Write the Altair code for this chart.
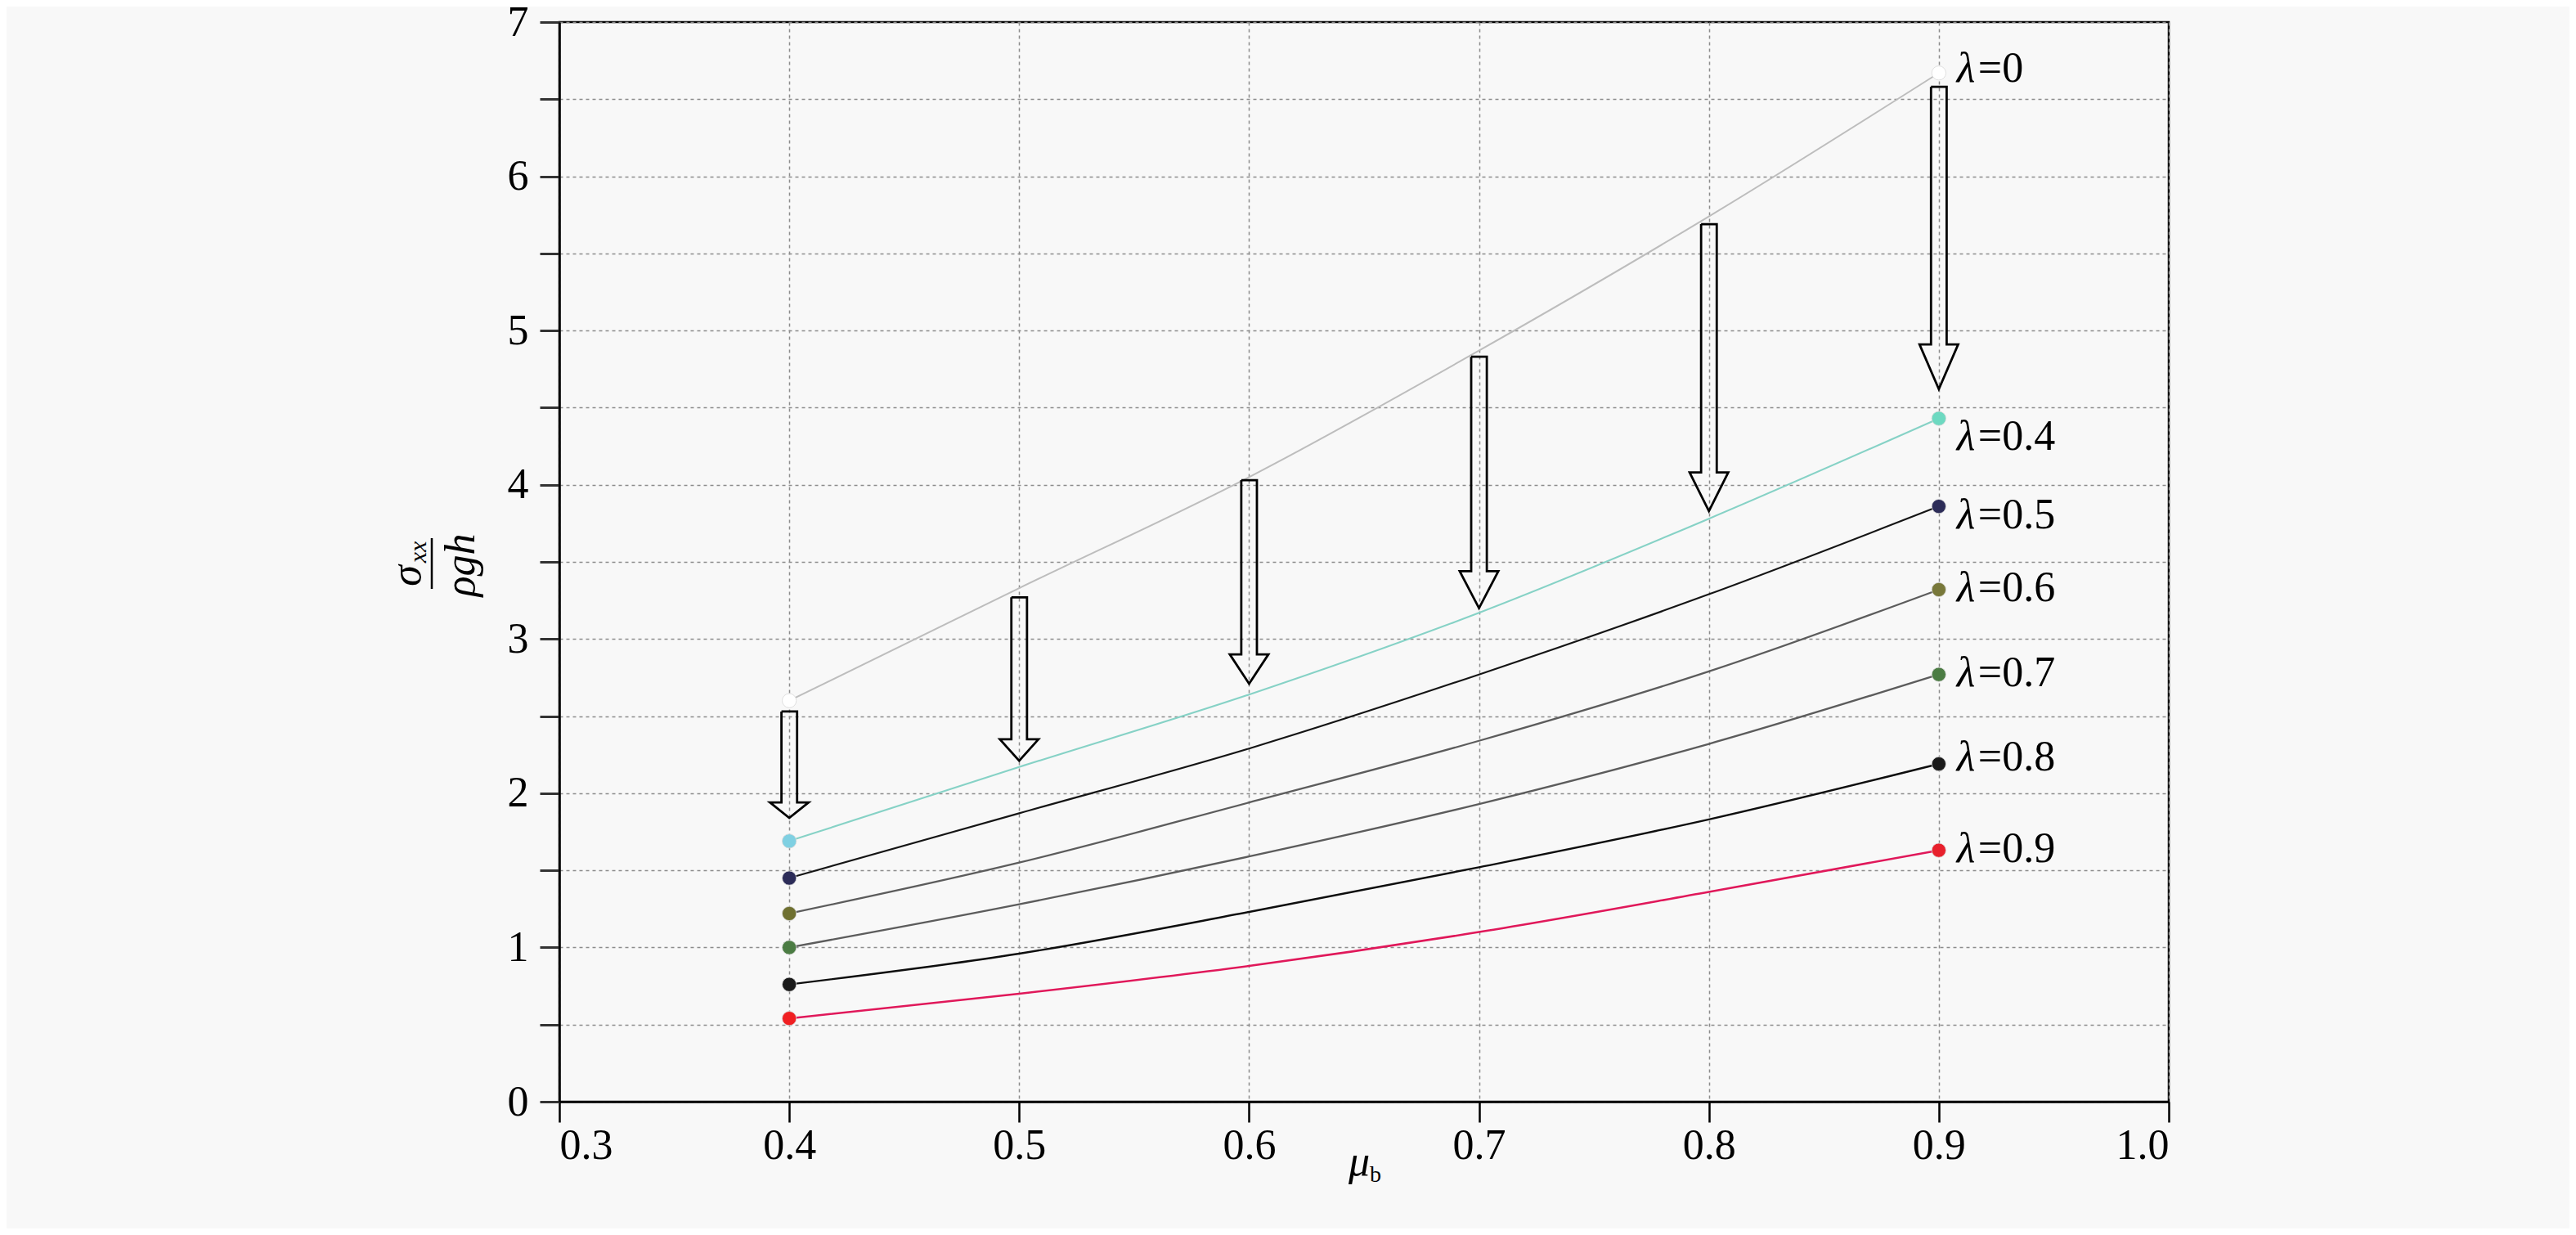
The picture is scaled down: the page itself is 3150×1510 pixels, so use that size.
import altair as alt
import pandas as pd

# ---------------- data ----------------
mu_b = [0.4, 0.5, 0.6, 0.7, 0.8, 0.9]
lambdas = ["0", "0.4", "0.5", "0.6", "0.7", "0.8", "0.9"]
s_l0 = [2.60, 3.33, 4.05, 4.87, 5.74, 6.67]
s_l04 = [1.69, 2.17, 2.64, 3.17, 3.78, 4.43]
s_l05 = [1.45, 1.87, 2.29, 2.77, 3.29, 3.86]
s_l06 = [1.22, 1.55, 1.94, 2.34, 2.79, 3.32]
s_l07 = [1.00, 1.28, 1.59, 1.93, 2.32, 2.77]
s_l08 = [0.76, 0.96, 1.23, 1.52, 1.83, 2.19]
s_l09 = [0.54, 0.70, 0.88, 1.10, 1.36, 1.63]
series = [s_l0, s_l04, s_l05, s_l06, s_l07, s_l08, s_l09]

line_colors = ["#bdbdbd", "#86d2c6", "#151515", "#5c5c5c", "#5c5c5c", "#0e0e0e", "#e0185a"]
line_widths = [2.0, 2.5, 3.0, 3.0, 3.0, 3.0, 3.0]
start_marker_colors = ["#ffffff", "#7fd0e2", "#2c2c58", "#6f7030", "#4b7c43", "#1a1a1a", "#f01f22"]
end_marker_colors = ["#ffffff", "#6dd9c1", "#2c2c58", "#78783a", "#4b7c43", "#1a1a1a", "#e8202c"]
label_y = [6.70, 4.31, 3.80, 3.33, 2.78, 2.23, 1.64]

arrow_x = [0.4, 0.5, 0.6, 0.7, 0.8, 0.9]
arrow_top = [2.53, 3.27, 4.03, 4.83, 5.69, 6.58]
arrow_tip = [1.84, 2.21, 2.71, 3.20, 3.83, 4.62]
arrow_head_len = [0.10, 0.14, 0.19, 0.24, 0.25, 0.29]
arrow_half_shaft = 0.0034   # in mu_b units
arrow_half_head = 0.0084

x_ticks = [0.3, 0.4, 0.5, 0.6, 0.7, 0.8, 0.9, 1.0]
y_ticks = [0, 0.5, 1, 1.5, 2, 2.5, 3, 3.5, 4, 4.5, 5, 5.5, 6, 6.5, 7]

FONT = "Liberation Serif, Times New Roman, serif"
BG = "#f8f8f8"
W, H = 1968, 1320

# ---------------- tables ----------------
line_rows = []
for lam, vals in zip(lambdas, series):
    for m, v in zip(mu_b, vals):
        line_rows.append({"mu": m, "s": v, "lam": lam})
lines_df = pd.DataFrame(line_rows)

pt_rows = []
for i, (lam, vals) in enumerate(zip(lambdas, series)):
    pt_rows.append({"mu": mu_b[0], "s": vals[0], "c": start_marker_colors[i], "lam": lam})
    pt_rows.append({"mu": mu_b[-1], "s": vals[-1], "c": end_marker_colors[i], "lam": lam})
pts_df = pd.DataFrame(pt_rows)

lab_df = pd.DataFrame({"mu": [mu_b[-1]] * len(lambdas), "s": label_y,
                       "txt": ["=" + l for l in lambdas]})

arr_rows = []
for k, (ax, top, tip, hl) in enumerate(zip(arrow_x, arrow_top, arrow_tip, arrow_head_len)):
    verts = [
        (ax - arrow_half_shaft, top),
        (ax + arrow_half_shaft, top),
        (ax + arrow_half_shaft, tip + hl),
        (ax + arrow_half_head, tip + hl),
        (ax, tip),
        (ax - arrow_half_head, tip + hl),
        (ax - arrow_half_shaft, tip + hl),
        (ax - arrow_half_shaft, top),
    ]
    for j, (vx, vy) in enumerate(verts):
        arr_rows.append({"a": k, "o": j, "mu": vx, "s": vy})
arr_df = pd.DataFrame(arr_rows)

# ---------------- encodings ----------------
xs = alt.Scale(domain=[0.3, 1.0], nice=False, zero=False)
ys = alt.Scale(domain=[0, 7], nice=False)

x_axis = alt.Axis(values=x_ticks, format=".1f", title="", grid=True,
                  labelFont=FONT, labelFontSize=52, labelColor="black",
                  tickColor="black", tickSize=25, tickWidth=2.5,
                  domainColor="black", domainWidth=2.5, labelPadding=3,
                  gridColor="#8c8c8c", gridDash=[4, 4], gridWidth=1.5)
y_axis = alt.Axis(values=y_ticks, title="", grid=True,
                  labelExpr="datum.value % 1 == 0 ? format(datum.value, 'd') : ''",
                  labelFont=FONT, labelFontSize=52, labelColor="black",
                  tickColor="#333333", tickSize=24, tickWidth=3,
                  domainColor="black", domainWidth=2.5, labelPadding=14,
                  gridColor="#8c8c8c", gridDash=[4, 4], gridWidth=1.5)

base_lines = alt.Chart(lines_df).mark_line(interpolate="monotone").encode(
    x=alt.X("mu:Q", scale=xs, axis=x_axis),
    y=alt.Y("s:Q", scale=ys, axis=y_axis),
    color=alt.Color("lam:N", scale=alt.Scale(domain=lambdas, range=line_colors), legend=None),
    strokeWidth=alt.StrokeWidth("lam:N", scale=alt.Scale(domain=lambdas, range=line_widths), legend=None),
    detail="lam:N",
)

points = alt.Chart(pts_df).mark_circle(size=300, opacity=1, stroke="#d8d8d8", strokeWidth=0.8).encode(
    x=alt.X("mu:Q", scale=xs),
    y=alt.Y("s:Q", scale=ys),
    color=alt.Color("c:N", scale=None),
)

lab_lambda = alt.Chart(lab_df).mark_text(text="λ", font=FONT, fontStyle="italic", fontSize=52,
                                         align="left", baseline="middle", dx=22, color="black").encode(
    x=alt.X("mu:Q", scale=xs), y=alt.Y("s:Q", scale=ys))
lab_rest = alt.Chart(lab_df).mark_text(font=FONT, fontSize=52, align="left", baseline="middle",
                                       dx=48, color="black").encode(
    x=alt.X("mu:Q", scale=xs), y=alt.Y("s:Q", scale=ys), text="txt:N")

arrows = alt.Chart(arr_df).mark_line(color="black", strokeWidth=2.8, strokeJoin="miter").encode(
    x=alt.X("mu:Q", scale=xs), y=alt.Y("s:Q", scale=ys), detail="a:N", order="o:Q")

one = pd.DataFrame({"k": [0]})
# y axis title: sigma_xx / (rho g h), rotated
t_sigma = alt.Chart(one).mark_text(text="σ", font=FONT, fontStyle="italic", fontSize=52, angle=270,
                                   align="center", baseline="middle", color="black").encode(
    x=alt.value(-186), y=alt.value(677))
t_xx = alt.Chart(one).mark_text(text="xx", font=FONT, fontStyle="italic", fontSize=30, angle=270,
                                align="center", baseline="middle", color="black").encode(
    x=alt.value(-172), y=alt.value(648))
t_bar = alt.Chart(one).mark_rule(color="black", strokeWidth=2.5).encode(
    x=alt.value(-156), y=alt.value(631), y2=alt.value(693))
t_rgh = alt.Chart(one).mark_text(text="ρgh", font=FONT, fontStyle="italic", fontSize=52, angle=270,
                                 align="center", baseline="middle", color="black").encode(
    x=alt.value(-120), y=alt.value(664))
# x axis title: mu_b
t_mu = alt.Chart(one).mark_text(text="μ", font=FONT, fontStyle="italic", fontSize=52,
                                align="center", baseline="alphabetic", color="black").encode(
    x=alt.value(978), y=alt.value(1410))
t_b = alt.Chart(one).mark_text(text="b", font=FONT, fontSize=28,
                               align="left", baseline="alphabetic", color="black").encode(
    x=alt.value(991), y=alt.value(1418))

chart = alt.layer(base_lines, points, arrows, lab_lambda, lab_rest,
                  t_sigma, t_xx, t_bar, t_rgh, t_mu, t_b).properties(
    width=W, height=H,
    autosize=alt.AutoSizeParams(type="none"),
    padding={"left": 676, "top": 19, "right": 490, "bottom": 155},
    background=BG,
).configure_view(stroke="black", strokeWidth=2.5, fill=BG)

chart.save("out.html", embed_options={"renderer": "svg", "actions": False})
